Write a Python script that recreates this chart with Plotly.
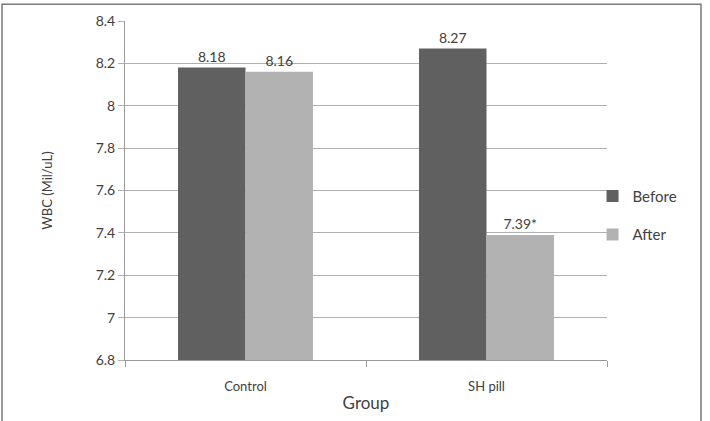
import plotly.graph_objects as go

categories = ["Control", "SH pill"]
before_vals = [8.18, 8.27]
after_vals = [8.16, 7.39]
before_labels = ["8.18", "8.27"]
after_labels = ["8.16", "7.39*"]
y_ticks = [6.8, 7.0, 7.2, 7.4, 7.6, 7.8, 8.0, 8.2, 8.4]
y_ticklabels = ["6.8", "7", "7.2", "7.4", "7.6", "7.8", "8", "8.2", "8.4"]
BASE = 6.8

FONT = "Lato, Open Sans, sans-serif"

fig = go.Figure()
fig.add_trace(go.Bar(name="Before", x=categories, y=[v - BASE for v in before_vals], base=BASE,
                     legendgroup="b",
                     marker=dict(color="#606060", line=dict(width=0)),
                     text=before_labels, textposition="outside", cliponaxis=False,
                     textfont=dict(size=14, color="#404040", family=FONT)))
fig.add_trace(go.Bar(name="After", x=categories, y=[v - BASE for v in after_vals], base=BASE,
                     legendgroup="a",
                     marker=dict(color="#b2b2b2", line=dict(width=0)),
                     text=after_labels, textposition="outside", cliponaxis=False,
                     textfont=dict(size=14, color="#404040", family=FONT)))

fig.update_layout(
    width=710, height=421,
    margin=dict(l=125, r=103, t=18, b=61),
    paper_bgcolor="white", plot_bgcolor="white",
    barmode="group", bargap=0.44, bargroupgap=0,
    font=dict(family=FONT, color="#404040", size=13),
    legend=dict(x=0.97, y=0.427, xanchor="left", yanchor="middle",
                bgcolor="rgba(0,0,0,0)",
                font=dict(size=15, color="#404040", family=FONT),
                itemwidth=30, tracegroupgap=16),
    xaxis=dict(showline=True, linecolor="#9a9a9a", linewidth=1,
               ticks="outside", tickson="boundaries", ticklen=6, tickcolor="#9a9a9a",
               showgrid=False, tickfont=dict(size=13), ticklabelstandoff=14,
               title=dict(text="Group", font=dict(size=17, color="#404040"), standoff=4)),
    yaxis=dict(range=[6.8, 8.4], tickvals=y_ticks, ticktext=y_ticklabels,
               showline=True, linecolor="#9a9a9a", linewidth=1,
               showgrid=True, gridcolor="#b0b0b0", gridwidth=1,
               ticks="outside", ticklen=6, tickcolor="#b0b0b0",
               tickfont=dict(size=14), zeroline=False,
               title=dict(text="WBC (Mil/uL)", font=dict(size=13, color="#404040"), standoff=40)),
    shapes=[dict(type="rect", xref="paper", yref="paper",
                 x0=(2 - 125) / 482, x1=(701 - 125) / 482,
                 y0=(360 - 424) / 342, y1=(360 - 1) / 342,
                 line=dict(color="#7a7a7a", width=1.5), layer="below")],
)

fig.write_html("out.html")
